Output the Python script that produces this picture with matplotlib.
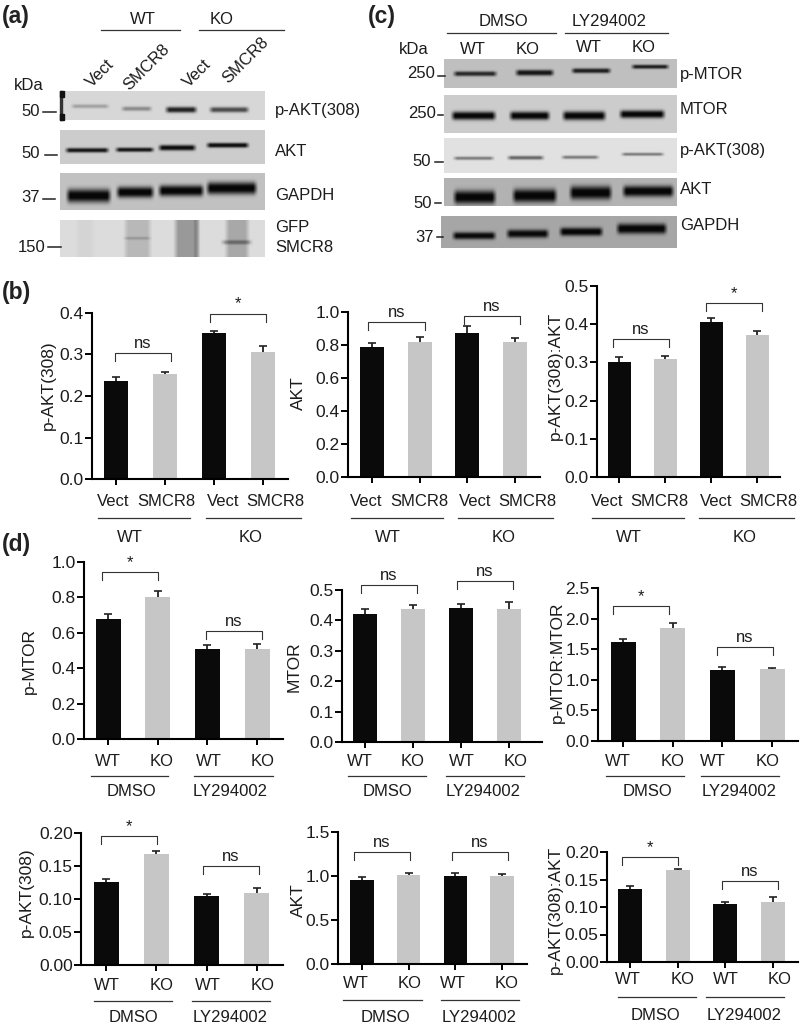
import numpy as np
from matplotlib import pyplot as plt

plt.rcParams["font.family"] = ["Liberation Sans", "DejaVu Sans"]

W, H = 800, 1025
INK = "#1c1c1c"

# bar heights and upper error bars
pakt_b = [0.237, 0.254, 0.352, 0.307]
pakt_b_err = [0.009, 0.004, 0.005, 0.013]
akt_b = [0.79, 0.82, 0.875, 0.82]
akt_b_err = [0.025, 0.03, 0.04, 0.02]
ratio_b = [0.30, 0.31, 0.405, 0.372]
ratio_b_err = [0.013, 0.008, 0.012, 0.01]

pmtor_d = [0.68, 0.80, 0.51, 0.51]
pmtor_d_err = [0.025, 0.035, 0.02, 0.025]
mtor_d = [0.42, 0.437, 0.44, 0.437]
mtor_d_err = [0.017, 0.015, 0.013, 0.025]
mtor_ratio_d = [1.62, 1.84, 1.16, 1.17]
mtor_ratio_d_err = [0.05, 0.09, 0.05, 0.03]

pakt_d = [0.126, 0.168, 0.105, 0.109]
pakt_d_err = [0.004, 0.005, 0.003, 0.007]
akt_d = [0.95, 1.01, 1.0, 1.0]
akt_d_err = [0.04, 0.02, 0.03, 0.02]
akt_ratio_d = [0.133, 0.167, 0.106, 0.109]
akt_ratio_d_err = [0.006, 0.003, 0.003, 0.009]

vect_labels = ["Vect", "SMCR8", "Vect", "SMCR8"]
geno_labels = ["WT", "KO", "WT", "KO"]
groups_b = ["WT", "KO"]
groups_d = ["DMSO", "LY294002"]

# box = left, top, right, bottom in px; c0/step/width = bar layout in px
# brackets = x0, x1, data level, text
panels = [
	dict(vals=pakt_b, errs=pakt_b_err, ylabel="p-AKT(308)", ylab=(48, 385), box=(92, 313, 288, 479), c0=116, step=49, width=24,
		ticks=[0.0, 0.1, 0.2, 0.3, 0.4], fmt="%.1f", brackets=[(115, 171, 0.304, "ns"), (210, 266, 0.398, "*")],
		xlab=[113, 166, 223, 275], xlab_y=501, labels=vect_labels, rules=[(98, 190), (206, 301)], rule_y=518,
		groups=groups_b, group_x=[130, 251], group_y=538),
	dict(vals=akt_b, errs=akt_b_err, ylabel="AKT", ylab=(298, 393), box=(348, 312, 540, 477), c0=372, step=47.7, width=24,
		ticks=[0.0, 0.2, 0.4, 0.6, 0.8, 1.0], fmt="%.1f", brackets=[(368, 425, 0.94, "ns"), (464, 520, 0.976, "ns")],
		xlab=[366, 419, 475, 527], xlab_y=501, labels=vect_labels, rules=[(351, 443), (458, 553)], rule_y=518,
		groups=groups_b, group_x=[388, 504], group_y=538),
	dict(vals=ratio_b, errs=ratio_b_err, ylabel="p-AKT(308):AKT", ylab=(555, 376), box=(597, 286, 780, 477), c0=619, step=46, width=23,
		ticks=[0.0, 0.1, 0.2, 0.3, 0.4, 0.5], fmt="%.1f", brackets=[(613, 669, 0.361, "ns"), (706, 762, 0.455, "*")],
		xlab=[607, 659, 716, 768], xlab_y=501, labels=vect_labels, rules=[(592, 684), (699, 794)], rule_y=518,
		groups=groups_b, group_x=[629, 745], group_y=538),
	dict(vals=pmtor_d, errs=pmtor_d_err, ylabel="p-MTOR", ylab=(29, 661), box=(84, 562, 283, 739), c0=108, step=49.7, width=25,
		ticks=[0.0, 0.2, 0.4, 0.6, 0.8, 1.0], fmt="%.1f", brackets=[(102, 158, 0.943, "*"), (206, 262, 0.61, "ns")],
		xlab=[108, 162, 209, 263], xlab_y=762, labels=geno_labels, rules=[(91, 168), (194, 273)], rule_y=776,
		groups=groups_d, group_x=[131, 230], group_y=792),
	dict(vals=mtor_d, errs=mtor_d_err, ylabel="MTOR", ylab=(294, 667), box=(342, 590, 542, 742), c0=365, step=48, width=24,
		ticks=[0.0, 0.1, 0.2, 0.3, 0.4, 0.5], fmt="%.1f", brackets=[(361, 417, 0.516, "ns"), (457, 513, 0.53, "ns")],
		xlab=[360, 413, 462, 516], xlab_y=762, labels=geno_labels, rules=[(348, 426), (446, 524)], rule_y=776,
		groups=groups_d, group_x=[388, 483], group_y=792),
	dict(vals=mtor_ratio_d, errs=mtor_ratio_d_err, ylabel="p-MTOR:MTOR", ylab=(557, 662), box=(598, 588, 798, 741), c0=623, step=49.7, width=25,
		ticks=[0.0, 0.5, 1.0, 1.5, 2.0, 2.5], fmt="%.1f", brackets=[(613, 669, 2.2, "*"), (717, 773, 1.53, "ns")],
		xlab=[618, 673, 713, 768], xlab_y=762, labels=geno_labels, rules=[(606, 684), (701, 779)], rule_y=776,
		groups=groups_d, group_x=[647, 739], group_y=792),
	dict(vals=pakt_d, errs=pakt_d_err, ylabel="p-AKT(308)", ylab=(26, 892), box=(81, 833, 283, 965), c0=106, step=50.3, width=25,
		ticks=[0.0, 0.05, 0.1, 0.15, 0.2], fmt="%.2f", brackets=[(101, 157, 0.195, "*"), (203, 259, 0.15, "ns")],
		xlab=[107, 162, 208, 263], xlab_y=986, labels=geno_labels, rules=[(94, 172), (192, 270)], rule_y=1001,
		groups=groups_d, group_x=[134, 230], group_y=1017),
	dict(vals=akt_d, errs=akt_d_err, ylabel="AKT", ylab=(298, 900), box=(338, 832, 527, 964), c0=362, step=46.7, width=23.5,
		ticks=[0.0, 0.5, 1.0, 1.5], fmt="%.1f", brackets=[(354, 410, 1.27, "ns"), (452, 508, 1.27, "ns")],
		xlab=[356, 410, 453, 507], xlab_y=984, labels=geno_labels, rules=[(343, 422), (441, 519)], rule_y=1000,
		groups=groups_d, group_x=[385, 479], group_y=1017),
	dict(vals=akt_ratio_d, errs=akt_ratio_d_err, ylabel="p-AKT(308):AKT", ylab=(555, 910), box=(607, 852, 798, 962), c0=630, step=47.7, width=24,
		ticks=[0.0, 0.05, 0.1, 0.15, 0.2], fmt="%.2f", brackets=[(622, 678, 0.191, "*"), (722, 778, 0.147, "ns")],
		xlab=[628, 683, 726, 780], xlab_y=980, labels=geno_labels, rules=[(618, 696), (706, 784)], rule_y=997,
		groups=groups_d, group_x=[655, 744], group_y=1016),
]

# blots: box, background grey, bands (x0, x1, y, half thickness, darkness)
blots = [
	dict(box=(60, 91, 265, 120), bg=0.84, bands=[(70, 110, 106, 1.6, 0.25), (120, 153, 108.5, 1.8, 0.35), (164, 198, 109.5, 2.4, 0.85), (208, 250, 109.5, 2.2, 0.65)]),
	dict(box=(60, 130, 265, 164), bg=0.80, bands=[(64, 110, 150, 1.9, 0.9), (114, 155, 149.5, 1.8, 0.9), (157, 197, 147.5, 2.3, 0.95), (205, 250, 145, 2, 0.95)]),
	dict(box=(60, 173, 265, 210), bg=0.76, bands=[(65, 112, 195.5, 5.5, 1), (115, 155, 192, 4.5, 1), (157, 205, 190.5, 4.5, 1), (205, 258, 188, 5, 1)]),
	dict(box=(60, 220, 265, 257), bg=0.86, bands=[(122, 152, 238, 1.2, 0.15), (220, 253, 242, 1.8, 0.3)],
		smears=[(75, 95, 0.03), (123, 152, 0.14), (173, 200, 0.26), (193, 200, 0.25), (224, 250, 0.2)]),
	dict(box=(444, 59, 677, 88), bg=0.75, bands=[(452, 498, 73.5, 2, 0.8), (514, 555, 72.5, 2.4, 0.9), (570, 612, 70.5, 2, 0.85), (630, 670, 66.5, 1.7, 0.85)]),
	dict(box=(444, 95, 677, 133), bg=0.80, bands=[(450, 497, 115.5, 3.4, 1), (508, 551, 115.5, 3.4, 1), (561, 607, 115.5, 3.6, 1), (618, 666, 114, 3.2, 1)]),
	dict(box=(444, 138, 677, 173), bg=0.88, bands=[(452, 495, 158, 1.4, 0.45), (506, 545, 157.5, 1.6, 0.55), (560, 600, 157, 1.4, 0.45), (620, 665, 154, 1.3, 0.45)]),
	dict(box=(444, 178, 677, 206), bg=0.70, bands=[(452, 497, 197, 5.5, 1), (511, 558, 195.5, 5.5, 1), (568, 613, 192.5, 5.5, 1), (621, 675, 191, 4.5, 1)]),
	dict(box=(441, 216, 677, 248), bg=0.65, bands=[(451, 497, 235.5, 3, 0.95), (505, 550, 233.5, 3.4, 0.95), (558, 604, 231.5, 3.4, 1), (615, 668, 228.5, 4.2, 1)]),
]

# blot annotation: text, x, y
blot_right = [("p-AKT(308)", 275, 110), ("AKT", 275, 151), ("GAPDH", 275, 195), ("GFP", 275, 228), ("SMCR8", 275, 248),
	("p-MTOR", 680, 74), ("MTOR", 680, 110), ("p-AKT(308)", 680, 151), ("AKT", 680, 189), ("GAPDH", 680, 226)]
blot_center = [("WT", 143, 20), ("KO", 222, 20), ("kDa", 29, 86), ("50", 31, 112), ("50", 31, 154), ("37", 31, 198), ("150", 32, 247),
	("DMSO", 504, 21), ("LY294002", 609, 21), ("WT", 473, 49), ("KO", 528, 49), ("WT", 589, 47), ("KO", 644, 47), ("kDa", 414, 49),
	("250", 421, 74), ("250", 422, 113), ("50", 422, 161), ("50", 423, 204), ("37", 425, 238)]
blot_rotated = [("Vect", 100, 73), ("SMCR8", 147, 67), ("Vect", 197, 73), ("SMCR8", 246, 60)]
marker_rules = [(43, 56, 112), (45, 57, 155), (43, 55, 199), (48, 61, 247), (438, 445, 76), (438, 443, 115), (435, 443, 162), (435, 441, 203), (437, 443, 237)]
head_rules = [(101, 180, 30), (199, 284, 30), (447, 556, 33), (565, 668, 33)]
panel_tags = [("(a)", 2, 16), ("(b)", 2, 292), ("(c)", 368, 16), ("(d)", 2, 545)]


def draw_blot(page, blot):
	x0, y0, x1, y1 = blot["box"]
	xs, ys = np.meshgrid(np.arange(x0, x1, 0.5), np.arange(y0, y1, 0.5))
	img = np.full(xs.shape, blot["bg"], dtype=float)
	for left, right, darkness in blot.get("smears", []):
		edge = np.clip((xs - left) / 5, 0, 1) * np.clip((right - xs) / 5, 0, 1)
		img -= darkness * edge
	for left, right, yc, half, darkness in blot["bands"]:
		edge = np.clip((xs - left) / 5, 0, 1) * np.clip((right - xs) / 5, 0, 1)
		core = np.exp(-(np.abs(ys - yc) / (half * 1.2)) ** 2.5)
		img -= darkness * blot["bg"] * edge * core
	page.imshow(np.clip(img, 0.03, 1), extent=(x0, x1, y1, y0), cmap="gray", vmin=0, vmax=1, aspect="auto", interpolation="bilinear")


def draw_panel(fig, page, p):
	left, top, right, bottom = p["box"]
	ax = fig.add_axes([left / W, 1 - bottom / H, (right - left) / W, (bottom - top) / H])
	ax.patch.set_alpha(0)
	xs = [p["c0"] + i * p["step"] for i in range(4)]
	ymax = p["ticks"][-1]
	ax.bar(xs, p["vals"], width=p["width"], color=["#0a0a0a", "#c6c6c6", "#0a0a0a", "#c6c6c6"])
	bars = ax.errorbar(xs, p["vals"], yerr=[[0] * 4, p["errs"]], fmt="none", ecolor="#222222", elinewidth=1.3, capsize=3, capthick=1.2)
	bars[1][0].set_visible(False)
	ax.set_xlim(left, right)
	ax.set_ylim(0, ymax)
	ax.spines[["top", "right"]].set_visible(False)
	ax.spines[["left", "bottom"]].set_linewidth(1.5)
	ax.set_xticks(xs, [""] * 4)
	ax.set_yticks(p["ticks"], [p["fmt"] % t for t in p["ticks"]])
	ax.tick_params(axis="x", length=4, width=1.4)
	ax.tick_params(axis="y", length=5, width=1.4, pad=1, labelsize=12.5, labelcolor=INK)

	drop = 8 / (bottom - top) * ymax
	for x0, x1, level, label in p["brackets"]:
		ax.plot([x0, x0, x1, x1], [level - drop, level, level, level - drop], color="#333333", lw=0.8, clip_on=False)
		ax.annotate(label, ((x0 + x1) / 2, level), xytext=(0, 7), textcoords="offset points", ha="center", va="center",
			fontsize=12, color=INK, annotation_clip=False)

	page.text(*p["ylab"], p["ylabel"], rotation=90, ha="center", va="center", fontsize=12.5, color=INK)
	for x, label in zip(p["xlab"], p["labels"]):
		page.text(x, p["xlab_y"], label, ha="center", va="center", fontsize=12, color=INK)
	for x0, x1 in p["rules"]:
		page.plot([x0, x1], [p["rule_y"]] * 2, color="#333333", lw=0.9)
	for x, label in zip(p["group_x"], p["groups"]):
		page.text(x, p["group_y"], label, ha="center", va="center", fontsize=12, color=INK)


def main():
	fig = plt.figure(figsize=(W / 100, H / 100), dpi=100)
	page = fig.add_axes([0, 0, 1, 1])

	for blot in blots:
		draw_blot(page, blot)
	page.add_patch(plt.Rectangle((60, 91), 1.5, 29, color="#333333"))
	page.add_patch(plt.Rectangle((60, 91), 3.5, 6, color="#111111"))
	page.add_patch(plt.Rectangle((60, 114), 4, 6, color="#111111"))

	for label, x, y in blot_right:
		page.text(x, y, label, ha="left", va="center", fontsize=12, color=INK)
	for label, x, y in blot_center:
		page.text(x, y, label, ha="center", va="center", fontsize=12, color=INK)
	for label, x, y in blot_rotated:
		page.text(x, y, label, rotation=45, ha="center", va="center", fontsize=12, color=INK, rotation_mode="anchor")
	for x0, x1, y in marker_rules:
		page.plot([x0, x1], [y, y], color="#222222", lw=1.1)
	for x0, x1, y in head_rules:
		page.plot([x0, x1], [y, y], color="#333333", lw=0.9)
	for label, x, y in panel_tags:
		page.text(x, y, label, ha="left", va="center", fontsize=16.5, fontweight="bold", color="#222222")

	for p in panels:
		draw_panel(fig, page, p)

	page.set_xlim(0, W)
	page.set_ylim(H, 0)
	page.axis("off")

	fig.savefig("out.png", dpi=100)
	plt.close(fig)


if __name__ == "__main__":
	main()
